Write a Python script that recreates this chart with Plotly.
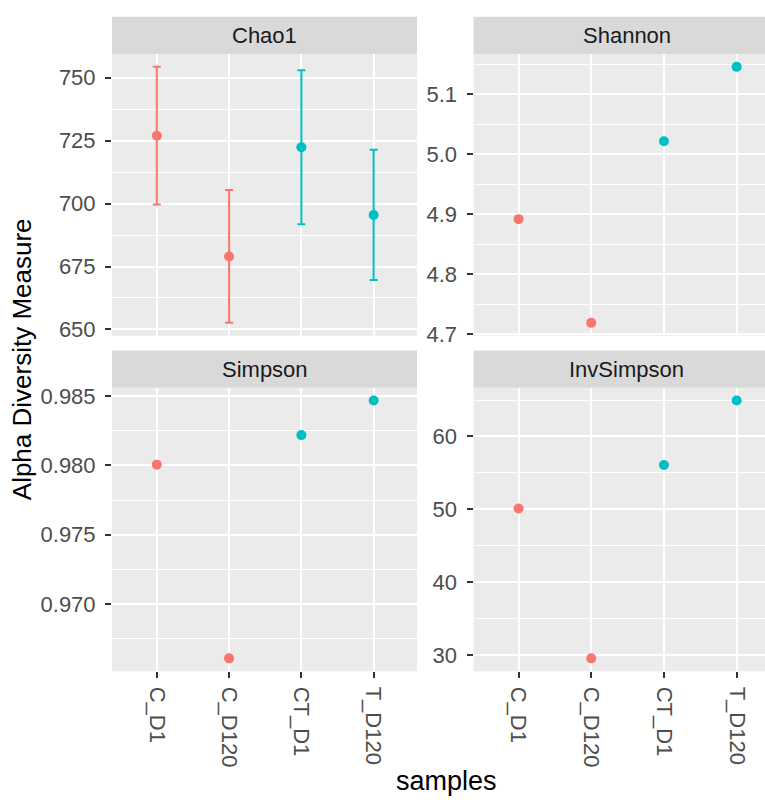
import plotly.graph_objects as go

samples = ["C_D1", "C_D120", "CT_D1", "T_D120"]
treatment = ["C", "C", "T", "T"]
colors = {"C": "#F8766D", "T": "#00BFC4"}

measures = ["Chao1", "Shannon", "Simpson", "InvSimpson"]
chao1 = [727.0, 679.0, 722.4, 695.5]
chao1_se = [27.35, 26.4, 30.6, 25.85]
shannon = [4.892, 4.719, 5.022, 5.146]
simpson = [0.98005, 0.96609, 0.98218, 0.98467]
invsimpson = [50.1, 29.54, 56.08, 64.93]

values = {"Chao1": chao1, "Shannon": shannon, "Simpson": simpson, "InvSimpson": invsimpson}
errors = {"Chao1": chao1_se}
dticks = {"Chao1": 25, "Shannon": 0.1, "Simpson": 0.005, "InvSimpson": 10}
fmts = {"Chao1": "d", "Shannon": ".1f", "Simpson": ".3f", "InvSimpson": "d"}

W, H = 765, 800
def px(x):
    return x / W
def py(y):
    return 1 - y / H

# panel geometry (pixels)
cols = [(112, 417), (473.5, 765)]
rows = [(51, 338), (391, 680)]
strips = [(13, 51), (353, 391)]
xranges = [[-0.62, 3.6], [-0.62, 3.39]]

fig = go.Figure()
FONT = "Liberation Sans, Arial, sans-serif"
tick_font = dict(family=FONT, size=22, color="#4D4D4D")

for i, m in enumerate(measures):
    r, c = divmod(i, 2)
    n = i + 1
    xa = "x" if n == 1 else f"x{n}"
    ya = "y" if n == 1 else f"y{n}"
    vals = values[m]
    err = errors.get(m)
    for g in ["C", "T"]:
        idx = [k for k, t in enumerate(treatment) if t == g]
        tr = dict(
            x=[samples[k] for k in idx],
            y=[vals[k] for k in idx],
            mode="markers",
            marker=dict(color=colors[g], size=10),
            xaxis=xa, yaxis=ya, showlegend=False,
        )
        if err is not None:
            tr["error_y"] = dict(type="data", array=[err[k] for k in idx], visible=True,
                                 color=colors[g], thickness=2, width=4)
        fig.add_trace(go.Scatter(**tr))
    lo = min(v - (err[k] if err else 0) for k, v in enumerate(vals))
    hi = max(v + (err[k] if err else 0) for k, v in enumerate(vals))
    pad = (hi - lo) * 0.05
    x0, x1 = cols[c]
    y0, y1 = rows[r]
    xkey = "xaxis" if n == 1 else f"xaxis{n}"
    ykey = "yaxis" if n == 1 else f"yaxis{n}"
    fig.update_layout({
        xkey: dict(domain=[px(x0), px(x1)], anchor=ya, type="category",
                   categoryorder="array", categoryarray=samples, range=xranges[c],
                   showgrid=True, gridcolor="white", gridwidth=2, zeroline=False,
                   showline=False, ticks="outside" if r == 1 else "",
                   ticklen=6, tickwidth=1.5, tickcolor="#333333",
                   showticklabels=(r == 1), tickangle=90, tickfont=tick_font,
                   ticklabelstandoff=4),
        ykey: dict(domain=[py(y1), py(y0)], anchor=xa, range=[lo - pad, hi + pad],
                   dtick=dticks[m], tickformat=fmts[m],
                   showgrid=True, gridcolor="white", gridwidth=2, zeroline=False,
                   showline=False, ticks="outside", ticklen=6, tickwidth=1.5,
                   tickcolor="#333333", tickfont=tick_font, ticklabelstandoff=5,
                   minor=dict(dtick=dticks[m] / 2, showgrid=True, gridcolor="white",
                              gridwidth=1, ticks="")),
    })
    s0, s1 = strips[r]
    fig.add_shape(type="rect", xref="paper", yref="paper",
                  x0=px(x0), x1=px(x1), y0=py(s1), y1=py(s0),
                  fillcolor="#D9D9D9", line=dict(width=0), layer="below")
    fig.add_annotation(text=m, xref="paper", yref="paper",
                       x=px((x0 + (x1 if c == 0 else 780)) / 2), y=py((s0 + s1) / 2),
                       showarrow=False, xanchor="center", yanchor="middle",
                       font=dict(family=FONT, size=22, color="#1A1A1A"))

fig.add_annotation(text="samples", xref="paper", yref="paper", x=px(446), y=py(792),
                   showarrow=False, xanchor="center", yanchor="middle",
                   font=dict(family=FONT, size=27, color="black"))
fig.add_annotation(text="Alpha Diversity Measure", xref="paper", yref="paper",
                   x=px(22), y=py(362), textangle=-90,
                   showarrow=False, xanchor="center", yanchor="middle",
                   font=dict(family=FONT, size=26, color="black"))

fig.update_layout(width=W, height=H, margin=dict(l=0, r=0, t=0, b=0),
                  paper_bgcolor="white", plot_bgcolor="#EBEBEB", showlegend=False)

fig.write_html("out.html", config={"displayModeBar": False},
               post_script="document.body.style.margin='0';document.body.style.overflow='hidden';")
